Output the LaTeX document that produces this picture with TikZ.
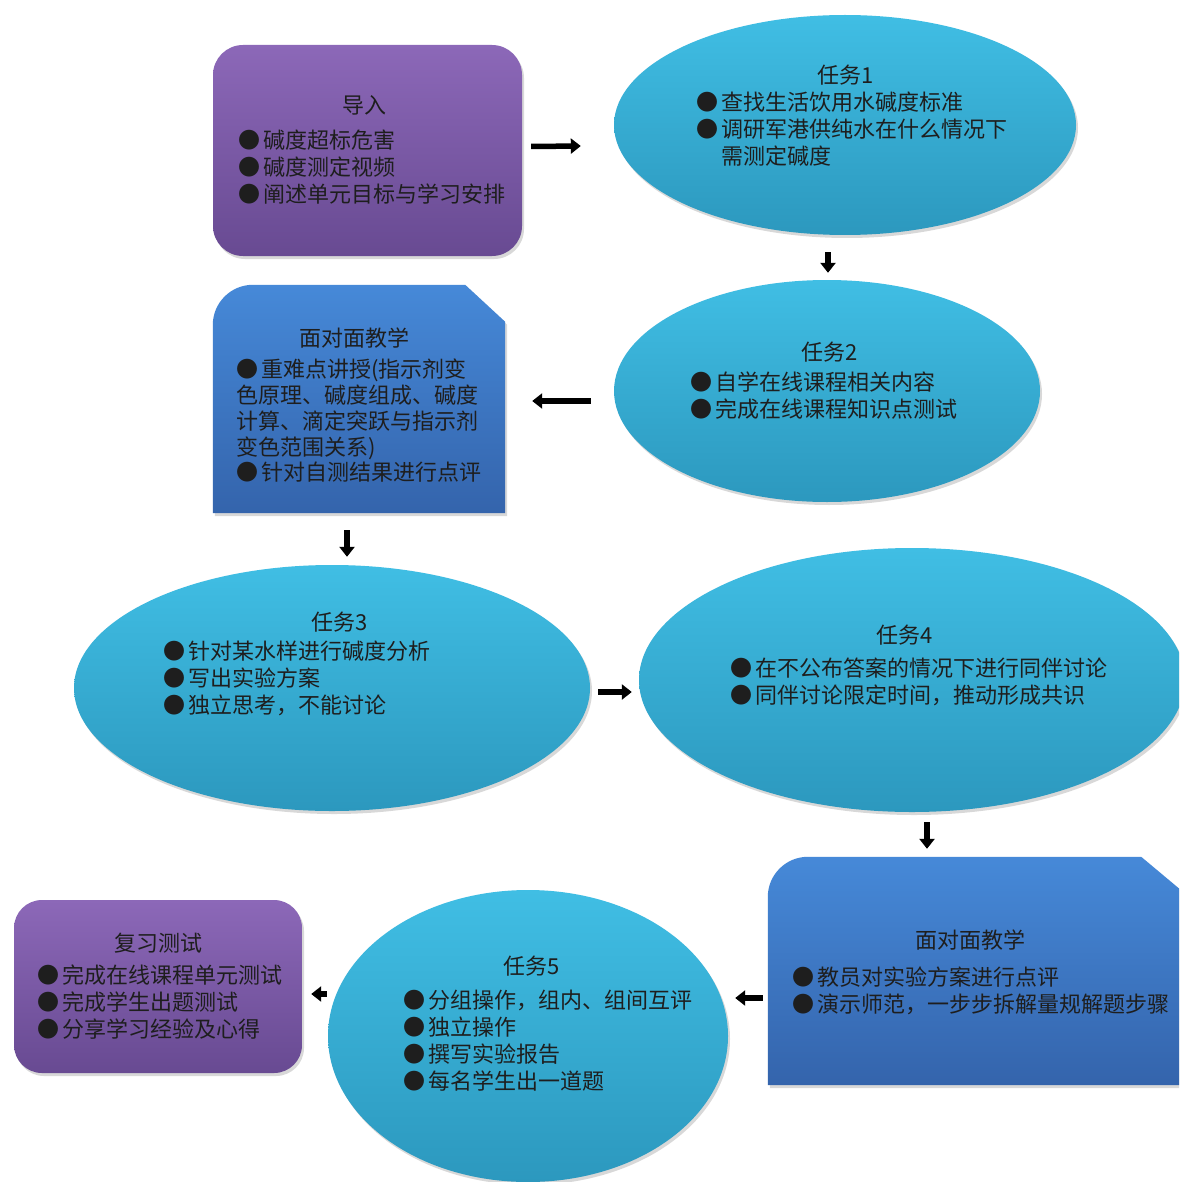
\documentclass[tikz,border=0pt]{standalone}
\usepackage{fontspec}
\setmainfont{Noto Sans CJK SC}
\usetikzlibrary{shapes.geometric,shadows,arrows.meta,calc}
\definecolor{purpT}{HTML}{8C68B8}
\definecolor{purpB}{HTML}{684A92}
\definecolor{cyanT}{HTML}{40BEE4}
\definecolor{cyanB}{HTML}{2C98BE}
\definecolor{blueT}{HTML}{4689D8}
\definecolor{blueB}{HTML}{3464AC}
\definecolor{txt}{HTML}{1E1E1E}
\tikzset{
  shad/.style={drop shadow={opacity=0.3, shadow xshift=2pt, shadow yshift=-3pt}},
  purbox/.style={rectangle, rounded corners=30pt, top color=purpT, bottom color=purpB, draw=none, inner sep=0pt, shad},
  oval/.style={ellipse, top color=cyanT, bottom color=cyanB, draw=none, inner sep=0pt, shad},
  frame/.style={rectangle, inner sep=0pt, draw=none},
  bluefill/.style={top color=blueT, bottom color=blueB, shad},
  ttl/.style={font=\fontsize{22}{27}\selectfont, text=txt, inner sep=0pt},
  body/.style={font=\fontsize{22}{27}\selectfont, text=txt, align=left, anchor=north west, inner sep=0pt},
  arr/.style={line width=5.5pt, -{Triangle[length=10pt,width=15pt]}, black},
}
\newcommand{\bul}{●\hspace{3pt}}
\newcommand{\ind}{\phantom{●}\hspace{3pt}}
\begin{document}
\begin{tikzpicture}[x=1pt,y=-1pt]
\useasboundingbox (0,0) rectangle (1179,1182);
\fill[white] (0,0) rectangle (1179,1182);
\clip (0,0) rectangle (1179,1182);

% shapes
\node[purbox, minimum width=309pt, minimum height=211pt] (imp) at (367.5,150.5) {};
\node[purbox, rounded corners=28pt, minimum width=288pt, minimum height=173pt] (rev) at (158,986.5) {};
\node[oval, minimum width=462pt, minimum height=220pt] (t1) at (845,125) {};
\node[oval, minimum width=426pt, minimum height=222pt] (t2) at (827,391) {};
\node[oval, minimum width=516pt, minimum height=246pt] (t3) at (332,688) {};
\node[oval, minimum width=546pt, minimum height=264pt] (t4) at (912,680) {};
\node[oval, minimum width=400pt, minimum height=292pt] (t5) at (528,1036) {};
\node[frame, minimum width=292pt, minimum height=228pt] (ff1) at (359,399) {};
\node[frame, minimum width=416pt, minimum height=228pt] (ff2) at (976,971) {};

\path[bluefill] (ff1.south west) -- ([shift={(0,40)}]ff1.north west)
  .. controls ([shift={(0,18)}]ff1.north west) and ([shift={(18,0)}]ff1.north west) .. ([shift={(40,0)}]ff1.north west)
  -- ([shift={(-40,0)}]ff1.north east) -- ([shift={(0,37)}]ff1.north east) -- (ff1.south east) -- cycle;
\path[bluefill] (ff2.south west) -- ([shift={(0,40)}]ff2.north west)
  .. controls ([shift={(0,18)}]ff2.north west) and ([shift={(18,0)}]ff2.north west) .. ([shift={(40,0)}]ff2.north west)
  -- ([shift={(-43,0)}]ff2.north east) -- ([shift={(0,36)}]ff2.north east) -- (ff2.south east) -- cycle;

% texts
\node[ttl] (impT) at (364,105) {导入};
\node[body] (impB) at (238,130) {\bul 碱度超标危害\\\bul 碱度测定视频\\\bul 阐述单元目标与学习安排};

\node[ttl] (t1T) at (846,75) {任务1};
\node[body] (t1B) at (696,92) {\bul 查找生活饮用水碱度标准\\\bul 调研军港供纯水在什么情况下\\\ind 需测定碱度};

\node[ttl] (t2T) at (830,352) {任务2};
\node[body] (t2B) at (690,372) {\bul 自学在线课程相关内容\\\bul 完成在线课程知识点测试};

\node[ttl] (ff1T) at (354,338) {面对面教学};
\node[body, font=\fontsize{22}{25.75}\selectfont] (ff1B) at (236,359) {\bul 重难点讲授(指示剂变\\色原理、碱度组成、碱度\\计算、滴定突跃与指示剂\\变色范围关系)\\\bul 针对自测结果进行点评};

\node[ttl] (t3T) at (340,622) {任务3};
\node[body] (t3B) at (163,641) {\bul 针对某水样进行碱度分析\\\bul 写出实验方案\\\bul 独立思考，不能讨论};

\node[ttl] (t4T) at (905,635) {任务4};
\node[body] (t4B) at (730,658) {\bul 在不公布答案的情况下进行同伴讨论\\\bul 同伴讨论限定时间，推动形成共识};

\node[ttl] (ff2T) at (970,940) {面对面教学};
\node[body] (ff2B) at (792,967) {\bul 教员对实验方案进行点评\\\bul 演示师范，一步步拆解量规解题步骤};

\node[ttl] (t5T) at (532,966) {任务5};
\node[body] (t5B) at (403,990) {\bul 分组操作，组内、组间互评\\\bul 独立操作\\\bul 撰写实验报告\\\bul 每名学生出一道题};

\node[ttl] (revT) at (158,943) {复习测试};
\node[body] (revB) at (37,965) {\bul 完成在线课程单元测试\\\bul 完成学生出题测试\\\bul 分享学习经验及心得};

% connectors
\draw[arr] ([shift={(9,-4)}]imp.east) -- ([shift={(-33,21)}]t1.west);
\draw[arr] ([shift={(-17,17)}]t1.south) -- ([shift={(1,-7)}]t2.north);
\draw[arr] ([shift={(-23,10)}]t2.west) -- ([shift={(27,2)}]ff1.east);
\draw[arr] ([shift={(-12,17)}]ff1.south) -- ([shift={(15,-8)}]t3.north);
\draw[arr] ([shift={(8,4)}]t3.east) -- ([shift={(-7,12)}]t4.west);
\draw[arr] ([shift={(15,10)}]t4.south) -- ([shift={(-49,-8)}]ff2.north);
\draw[arr] ([shift={(-5,27)}]ff2.west) -- ([shift={(7,-38)}]t5.east);
\draw[arr] ([shift={(-1,-42)}]t5.west) -- ([shift={(9,7.5)}]rev.east);
\end{tikzpicture}
\end{document}
